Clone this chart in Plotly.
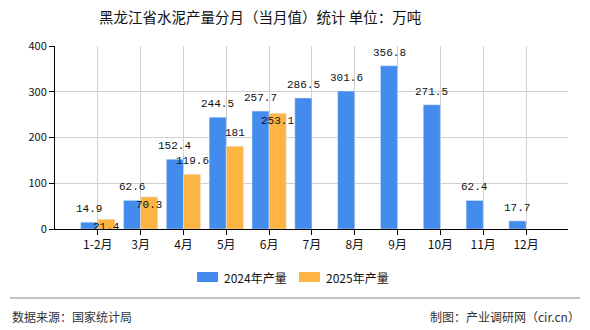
import plotly.graph_objects as go

categories = ["1-2月", "3月", "4月", "5月", "6月", "7月", "8月", "9月", "10月", "11月", "12月"]
values_2024 = [14.9, 62.6, 152.4, 244.5, 257.7, 286.5, 301.6, 356.8, 271.5, 62.4, 17.7]
values_2025 = [21.4, 70.3, 119.6, 181, 253.1]
label_place_2025 = ["in", "in", "out", "out", "in"]
y_ticks = [0, 100, 200, 300, 400]
series_names = ["2024年产量", "2025年产量"]

BLUE = "#448BEE"
ORANGE = "#FDB443"
LABEL_FONT = dict(family="Liberation Mono, DejaVu Sans Mono, monospace", size=11, color="#111")
CJK = "Noto Sans CJK SC, sans-serif"

W, H = 590, 330
L, R, T, B = 55, 22, 46, 101
PW, PH = W - L - R, H - T - B


def px(x):
    return (x - L) / PW


def py(y):
    return (H - B - y) / PH


fig = go.Figure()
fig.add_trace(go.Bar(x=categories, y=values_2024, name=series_names[0], marker_color=BLUE))
fig.add_trace(go.Bar(x=categories[:len(values_2025)], y=values_2025, name=series_names[1], marker_color=ORANGE))

ann = []
for i, v in enumerate(values_2024):
    ann.append(dict(x=i - 0.2, y=v, xref="x", yref="y", text=f"{v:g}", showarrow=False,
                    yanchor="bottom", yshift=5, font=LABEL_FONT))
for i, v in enumerate(values_2025):
    if label_place_2025[i] == "out":
        ann.append(dict(x=i + 0.2, y=v, xref="x", yref="y", text=f"{v:g}", showarrow=False,
                        yanchor="bottom", yshift=5, font=LABEL_FONT))
    else:
        ann.append(dict(x=i + 0.2, y=v, xref="x", yref="y", text=f"{v:g}", showarrow=False,
                        yanchor="middle", yshift=-8, font=LABEL_FONT))

ann.append(dict(x=px(260), y=py(16), xref="paper", yref="paper", yanchor="middle", xanchor="center",
                text="黑龙江省水泥产量分月（当月值）统计 单位：万吨", showarrow=False,
                font=dict(family=CJK, size=14.5, color="#111")))
ann.append(dict(x=px(10), y=py(316), xref="paper", yref="paper", xanchor="left", yanchor="middle",
                text="数据来源：国家统计局", showarrow=False, font=dict(family=CJK, size=12, color="#333")))
ann.append(dict(x=px(582), y=py(316), xref="paper", yref="paper", xanchor="right", yanchor="middle",
                text="制图：产业调研网（cir.cn）", showarrow=False, font=dict(family=CJK, size=12, color="#333")))

# legend (drawn manually)
shapes = [dict(type="line", xref="paper", yref="paper", x0=px(10), x1=px(580),
               y0=py(298), y1=py(298), line=dict(color="#888", width=1))]
legend_items = [(197, BLUE, series_names[0]), (299, ORANGE, series_names[1])]
for x0, col, name in legend_items:
    shapes.append(dict(type="rect", xref="paper", yref="paper", x0=px(x0), x1=px(x0 + 21),
                       y0=py(282), y1=py(272), fillcolor=col, line=dict(width=0)))
    ann.append(dict(x=px(x0 + 25), y=py(277), xref="paper", yref="paper", xanchor="left", yanchor="middle",
                    text=name, showarrow=False, font=dict(family=CJK, size=12, color="#111")))

fig.update_layout(
    width=W, height=H,
    margin=dict(l=L, r=R, t=T, b=B),
    paper_bgcolor="white", plot_bgcolor="white",
    barmode="group", bargap=0.2, bargroupgap=0,
    showlegend=False,
    annotations=ann,
    shapes=shapes,
    xaxis=dict(type="category", range=[-1, 10.98], showgrid=True, gridcolor="#d0d0d0", gridwidth=1,
               showline=True, linecolor="#000", linewidth=1, ticks="outside", ticklen=5, tickcolor="#000",
               tickfont=dict(family=CJK, size=12, color="#111"), fixedrange=True),
    yaxis=dict(range=[0, 400], tickvals=y_ticks, showgrid=True, gridcolor="#d0d0d0", gridwidth=1,
               showline=True, linecolor="#000", linewidth=1, ticks="outside", ticklen=5, tickcolor="#000",
               tickfont=dict(family=CJK, size=11, color="#111"), zeroline=False),
)

fig.write_html("out.html")
